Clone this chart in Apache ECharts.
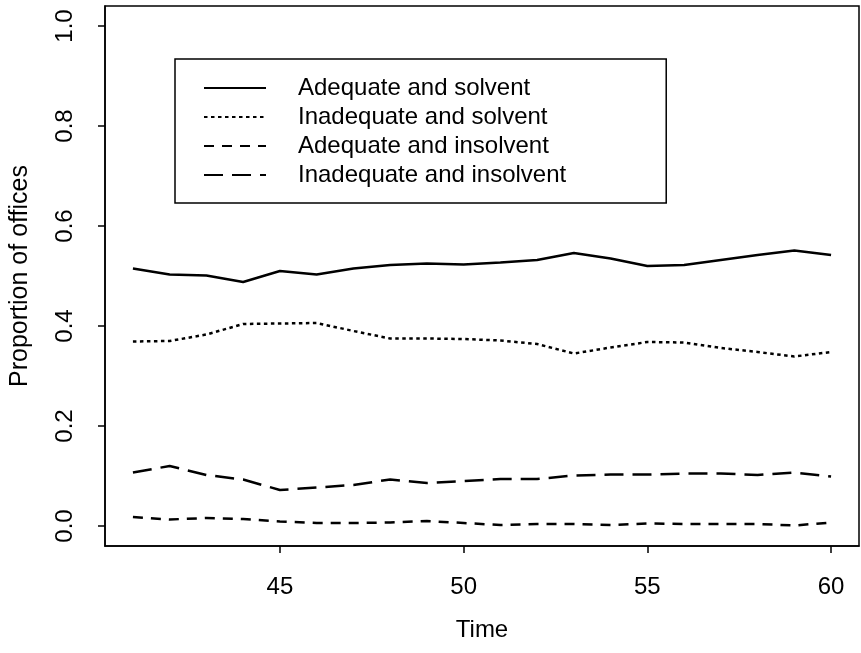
<!DOCTYPE html>
<html>
<head>
<meta charset="utf-8">
<script src="https://cdn.jsdelivr.net/npm/echarts@6/dist/echarts.min.js"></script>
<style>
html,body{margin:0;padding:0;background:#fff;}
#chart{width:861px;height:653px;}
</style>
</head>
<body>
<div id="chart"></div>
<script>
// ---- data ----
var times = [41,42,43,44,45,46,47,48,49,50,51,52,53,54,55,56,57,58,59,60];
var adequateSolvent = [0.515,0.503,0.501,0.488,0.510,0.503,0.515,0.522,0.525,0.523,0.527,0.532,0.546,0.535,0.520,0.522,0.532,0.542,0.551,0.542];
var inadequateSolvent = [0.369,0.370,0.383,0.404,0.405,0.406,0.390,0.375,0.375,0.374,0.371,0.364,0.345,0.357,0.368,0.367,0.356,0.348,0.339,0.348];
var adequateInsolvent = [0.018,0.013,0.016,0.014,0.009,0.006,0.006,0.007,0.010,0.006,0.002,0.004,0.004,0.002,0.005,0.004,0.004,0.004,0.001,0.007];
var inadequateInsolvent = [0.107,0.120,0.102,0.093,0.072,0.077,0.082,0.093,0.086,0.090,0.094,0.094,0.101,0.103,0.103,0.105,0.105,0.102,0.107,0.099];
var seriesNames = ['Adequate and solvent','Inadequate and solvent','Adequate and insolvent','Inadequate and insolvent'];
var xTicks = [45,50,55,60];
var yTicks = [0,0.2,0.4,0.6,0.8,1.0];

var FONT = '"Liberation Sans", Arial, Helvetica, sans-serif';

function pairs(vals){ return times.map(function(t,i){ return [t, vals[i]]; }); }

var dashes = ['solid', [3.5,3.5], [10,8], [19,9]];
var allVals = [adequateSolvent, inadequateSolvent, adequateInsolvent, inadequateInsolvent];

var series = allVals.map(function(v,i){
  return {
    name: seriesNames[i],
    type: 'line',
    data: pairs(v),
    symbol: 'none',
    showSymbol: false,
    smooth: false,
    lineStyle: {color:'#000', width:2.5, type: dashes[i]},
    itemStyle: {color:'#000'}
  };
});

var chart = echarts.init(document.getElementById('chart'), null, {renderer:'canvas'});
chart.setOption({
  animation: false,
  backgroundColor: '#fff',
  textStyle: {fontFamily: FONT, color:'#000'},
  grid: {left:104, right:2, top:6, bottom:107, show:true, borderColor:'#000', borderWidth:1.5, containLabel:false},
  legend: {
    orient: 'vertical',
    left: 175, top: 59,
    padding: [14.5, 100, 13.5, 28],
    itemWidth: 62, itemHeight: 6, itemGap: 0,
    borderColor: '#000', borderWidth: 1.5,
    itemStyle: {color:'rgba(0,0,0,0)', borderWidth:0, opacity:0},
    data: seriesNames,
    textStyle: {fontFamily: FONT, fontSize: 24, color:'#000', lineHeight: 29, padding:[0,0,0,27]}
  },
  xAxis: {
    type: 'value', min: 40.24, max: 60.76,
    name: 'Time', nameLocation: 'middle', nameGap: 72,
    nameTextStyle: {fontFamily: FONT, fontSize: 24, color:'#000'},
    axisLine: {show:true, onZero:false, lineStyle:{color:'#000', width:1.5}},
    axisTick: {show:true, length:7, lineStyle:{color:'#000', width:1.5}, customValues: xTicks},
    axisLabel: {fontFamily: FONT, fontSize: 24, color:'#000', margin: 29, customValues: xTicks},
    splitLine: {show:false}
  },
  yAxis: {
    type: 'value', min: -0.04, max: 1.04,
    name: 'Proportion of offices', nameLocation: 'middle', nameGap: 72,
    nameTextStyle: {fontFamily: FONT, fontSize: 25, color:'#000'},
    axisLine: {show:true, onZero:false, lineStyle:{color:'#000', width:1.5}},
    axisTick: {show:true, length:7, lineStyle:{color:'#000', width:1.5}, customValues: yTicks},
    axisLabel: {fontFamily: FONT, fontSize: 24, color:'#000', rotate: 90, margin: 40,
      align:'center', verticalAlign:'middle', customValues: yTicks,
      formatter: function(v){ return v.toFixed(1); }},
    splitLine: {show:false}
  },
  series: series
});
</script>
</body>
</html>
